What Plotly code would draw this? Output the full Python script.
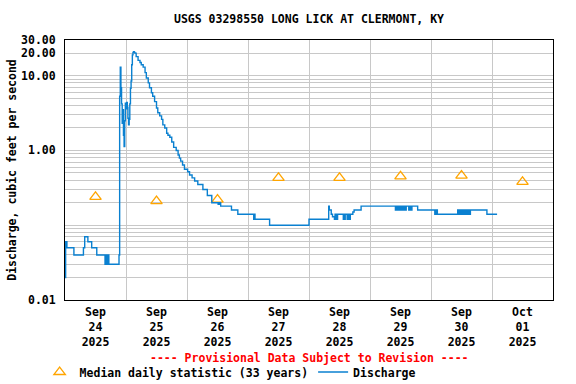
import pandas as pd
import plotly.graph_objects as go

# ---------------- data ----------------
start_time = "2025-09-24 00:00"

# hours after start (15-minute readings where the value changes)
hours = [
    0.00, 0.25, 0.75, 3.50, 7.25, 7.75, 9.00, 10.50, 12.50,
    15.75, 16.00, 16.25, 16.50, 16.75, 17.00, 17.25, 17.50, 21.25,
    21.50, 21.75, 22.00, 22.25, 22.50, 22.75, 23.00, 23.25, 23.50, 23.75,
    24.00, 24.25, 24.50, 24.75, 25.00, 25.25, 25.50, 25.75, 26.00, 26.25,
    26.50, 26.75, 27.00, 27.25, 27.50, 28.00, 28.75, 29.50, 30.00, 30.75,
    31.50, 32.00, 32.75, 33.25, 34.00, 34.50, 35.25, 36.00, 36.50, 37.25,
    38.00, 38.50, 39.25, 40.00, 40.50, 41.25, 42.00, 42.75, 43.75, 44.50,
    45.00, 45.50, 46.25, 47.00, 48.25, 49.00, 50.00, 51.00, 52.25, 54.25,
    56.00, 57.75, 60.25, 60.50, 60.75, 61.00, 61.25, 65.50, 68.00,
    74.25, 74.50, 74.75, 80.50, 96.00,
    103.75, 104.00, 104.75, 105.25,
    106.00, 106.25, 106.50, 106.75, 107.00, 107.25,
    109.50, 109.75, 110.00, 110.25, 111.00, 111.25, 111.50, 111.75, 112.00, 112.25,
    113.25, 113.75, 116.50,
    130.00, 130.25, 130.50, 130.75, 131.00, 131.25, 131.50, 131.75, 132.00,
    132.25, 132.50, 132.75, 133.00, 133.25, 133.50, 133.75, 134.00, 134.25, 134.50,
    135.25, 135.50, 135.75, 136.00, 136.25, 136.50, 136.75,
    138.75, 145.50, 145.75, 146.00, 146.25, 146.50, 146.75,
    154.50, 154.75, 155.00, 155.25, 155.50, 155.75, 156.00, 156.25, 156.50,
    156.75, 157.00, 157.25, 157.50, 157.75, 158.00, 158.25, 158.50, 158.75,
    159.00, 159.25, 159.50, 166.00, 170.00,
]

discharge = [
    0.02, 0.06, 0.05, 0.04, 0.05, 0.07, 0.06, 0.05, 0.04,
    0.03, 0.04, 0.03, 0.04, 0.03, 0.04, 0.03, 0.03, 0.04,
    5.3, 13.0, 6.9, 4.2, 2.3, 3.5, 1.6, 1.13, 2.5, 4.3,
    3.6, 4.4, 3.8, 2.7, 2.2, 2.6, 4.2, 6.8, 8.5, 14.0,
    19.0, 20.5, 21.0, 20.5, 20.0, 18.0, 16.0, 15.0, 14.0, 13.0,
    11.0, 9.3, 8.0, 6.9, 5.9, 5.3, 4.5, 3.7, 3.2, 2.9,
    2.6, 2.2, 2.0, 1.7, 1.6, 1.5, 1.3, 1.1, 1.0, 0.87,
    0.79, 0.72, 0.64, 0.56, 0.52, 0.47, 0.43, 0.39, 0.35, 0.30,
    0.25, 0.20, 0.19, 0.20, 0.19, 0.20, 0.18, 0.16, 0.14,
    0.12, 0.14, 0.12, 0.10, 0.12,
    0.18, 0.16, 0.14, 0.13,
    0.12, 0.14, 0.12, 0.14, 0.12, 0.14,
    0.12, 0.14, 0.12, 0.14, 0.12, 0.14, 0.12, 0.14, 0.12, 0.14,
    0.15, 0.16, 0.18,
    0.16, 0.18, 0.16, 0.18, 0.16, 0.18, 0.16, 0.18, 0.16,
    0.18, 0.16, 0.18, 0.16, 0.18, 0.16, 0.18, 0.16, 0.18, 0.18,
    0.16, 0.18, 0.16, 0.18, 0.16, 0.18, 0.18,
    0.16, 0.14, 0.16, 0.14, 0.16, 0.14, 0.14,
    0.16, 0.14, 0.16, 0.14, 0.16, 0.14, 0.16, 0.14, 0.16,
    0.14, 0.16, 0.14, 0.16, 0.14, 0.16, 0.14, 0.16, 0.14,
    0.16, 0.14, 0.16, 0.14, 0.14,
]

median_dates = ["2025-09-24 12:00", "2025-09-25 12:00", "2025-09-26 12:00",
                "2025-09-27 12:00", "2025-09-28 12:00", "2025-09-29 12:00",
                "2025-09-30 12:00", "2025-10-01 12:00"]
median_values = [0.24, 0.21, 0.22, 0.43, 0.43, 0.45, 0.46, 0.38]

day_ticks = ["2025-09-24 12:00", "2025-09-25 12:00", "2025-09-26 12:00",
             "2025-09-27 12:00", "2025-09-28 12:00", "2025-09-29 12:00",
             "2025-09-30 12:00", "2025-10-01 12:00"]
day_labels = ["Sep<br>24<br>2025", "Sep<br>25<br>2025", "Sep<br>26<br>2025",
              "Sep<br>27<br>2025", "Sep<br>28<br>2025", "Sep<br>29<br>2025",
              "Sep<br>30<br>2025", "Oct<br>01<br>2025"]
midnights = ["2025-09-25", "2025-09-26", "2025-09-27", "2025-09-28",
             "2025-09-29", "2025-09-30", "2025-10-01"]

y_ticks = [0.01, 1, 10, 20, 30]
y_labels = ["0.01", "1.00", "10.00", "20.00", "30.00"]

# ---------------- figure ----------------
times = pd.Timestamp(start_time) + pd.to_timedelta(hours, unit="h")

y_grid = [m * 10 ** e for e in (-2, -1, 0) for m in range(1, 10)] + [10, 20]

FONT = "DejaVu Sans Mono"
fig = go.Figure()
fig.add_trace(go.Scatter(
    x=median_dates, y=median_values, mode="markers",
    name="Median daily statistic (33 years)",
    marker=dict(symbol="triangle-up-open", size=10, color="#FFA500",
                line=dict(width=1.3, color="#FFA500")),
))
fig.add_trace(go.Scatter(
    x=times, y=discharge, mode="lines", name="Discharge",
    line=dict(color="#0A80D0", width=1.4, shape="hv"),
))

fig.update_layout(
    width=576, height=384,
    margin=dict(l=65, r=23, t=40, b=84, autoexpand=False),
    paper_bgcolor="white", plot_bgcolor="white",
    font=dict(family=FONT, size=11.5, color="black", weight="bold"),
    title=dict(text="USGS 03298550 LONG LICK AT CLERMONT, KY",
               x=0.5, xref="paper", xanchor="center",
               y=1 - 19 / 384, yref="container", yanchor="middle",
               font=dict(family=FONT, size=11.5, color="black", weight="bold")),
    showlegend=True,
    legend=dict(orientation="h", x=-0.052, xanchor="left",
                y=-0.277, yanchor="middle", bgcolor="rgba(0,0,0,0)",
                borderwidth=0, itemwidth=30,
                font=dict(family=FONT, size=11.5, weight="bold")),
    annotations=[dict(
        text="---- Provisional Data Subject to Revision ----",
        x=0.5, xref="paper", xanchor="center",
        y=-58 / 260, yref="paper", yanchor="middle", showarrow=False,
        font=dict(family=FONT, size=11.5, color="#FF0000", weight="bold"),
    )],
)

fig.update_xaxes(
    range=["2025-09-24 00:00", "2025-10-02 00:00"],
    tickmode="array", tickvals=day_ticks, ticktext=day_labels,
    showgrid=False, ticks="", zeroline=False, automargin=False,
    ticklabelstandoff=1,
    showline=True, linecolor="black", linewidth=1, mirror=True,
    tickfont=dict(family=FONT, size=11.5, weight="bold"),
    minor=dict(tickmode="array", tickvals=midnights, showgrid=True,
               gridcolor="#C8C8C8", gridwidth=1, ticks=""),
)
fig.update_yaxes(
    type="log", range=[-2, 1.4771],
    tickmode="array", tickvals=y_ticks, ticktext=y_labels,
    showgrid=True, gridcolor="#C8C8C8", gridwidth=1, ticks="",
    ticklabelstandoff=6, automargin=False,
    showline=True, linecolor="black", linewidth=1, mirror=True,
    zeroline=False,
    tickfont=dict(family=FONT, size=11.5, weight="bold"),
    title=dict(text="Discharge, cubic feet per second", standoff=2,
               font=dict(family=FONT, size=11.5, weight="bold")),
    minor=dict(tickmode="array", tickvals=y_grid, showgrid=True,
               gridcolor="#C8C8C8", gridwidth=1, ticks=""),
)

fig.write_html("out.html", config={"displayModeBar": False},
               post_script="document.body.style.margin='0';")
